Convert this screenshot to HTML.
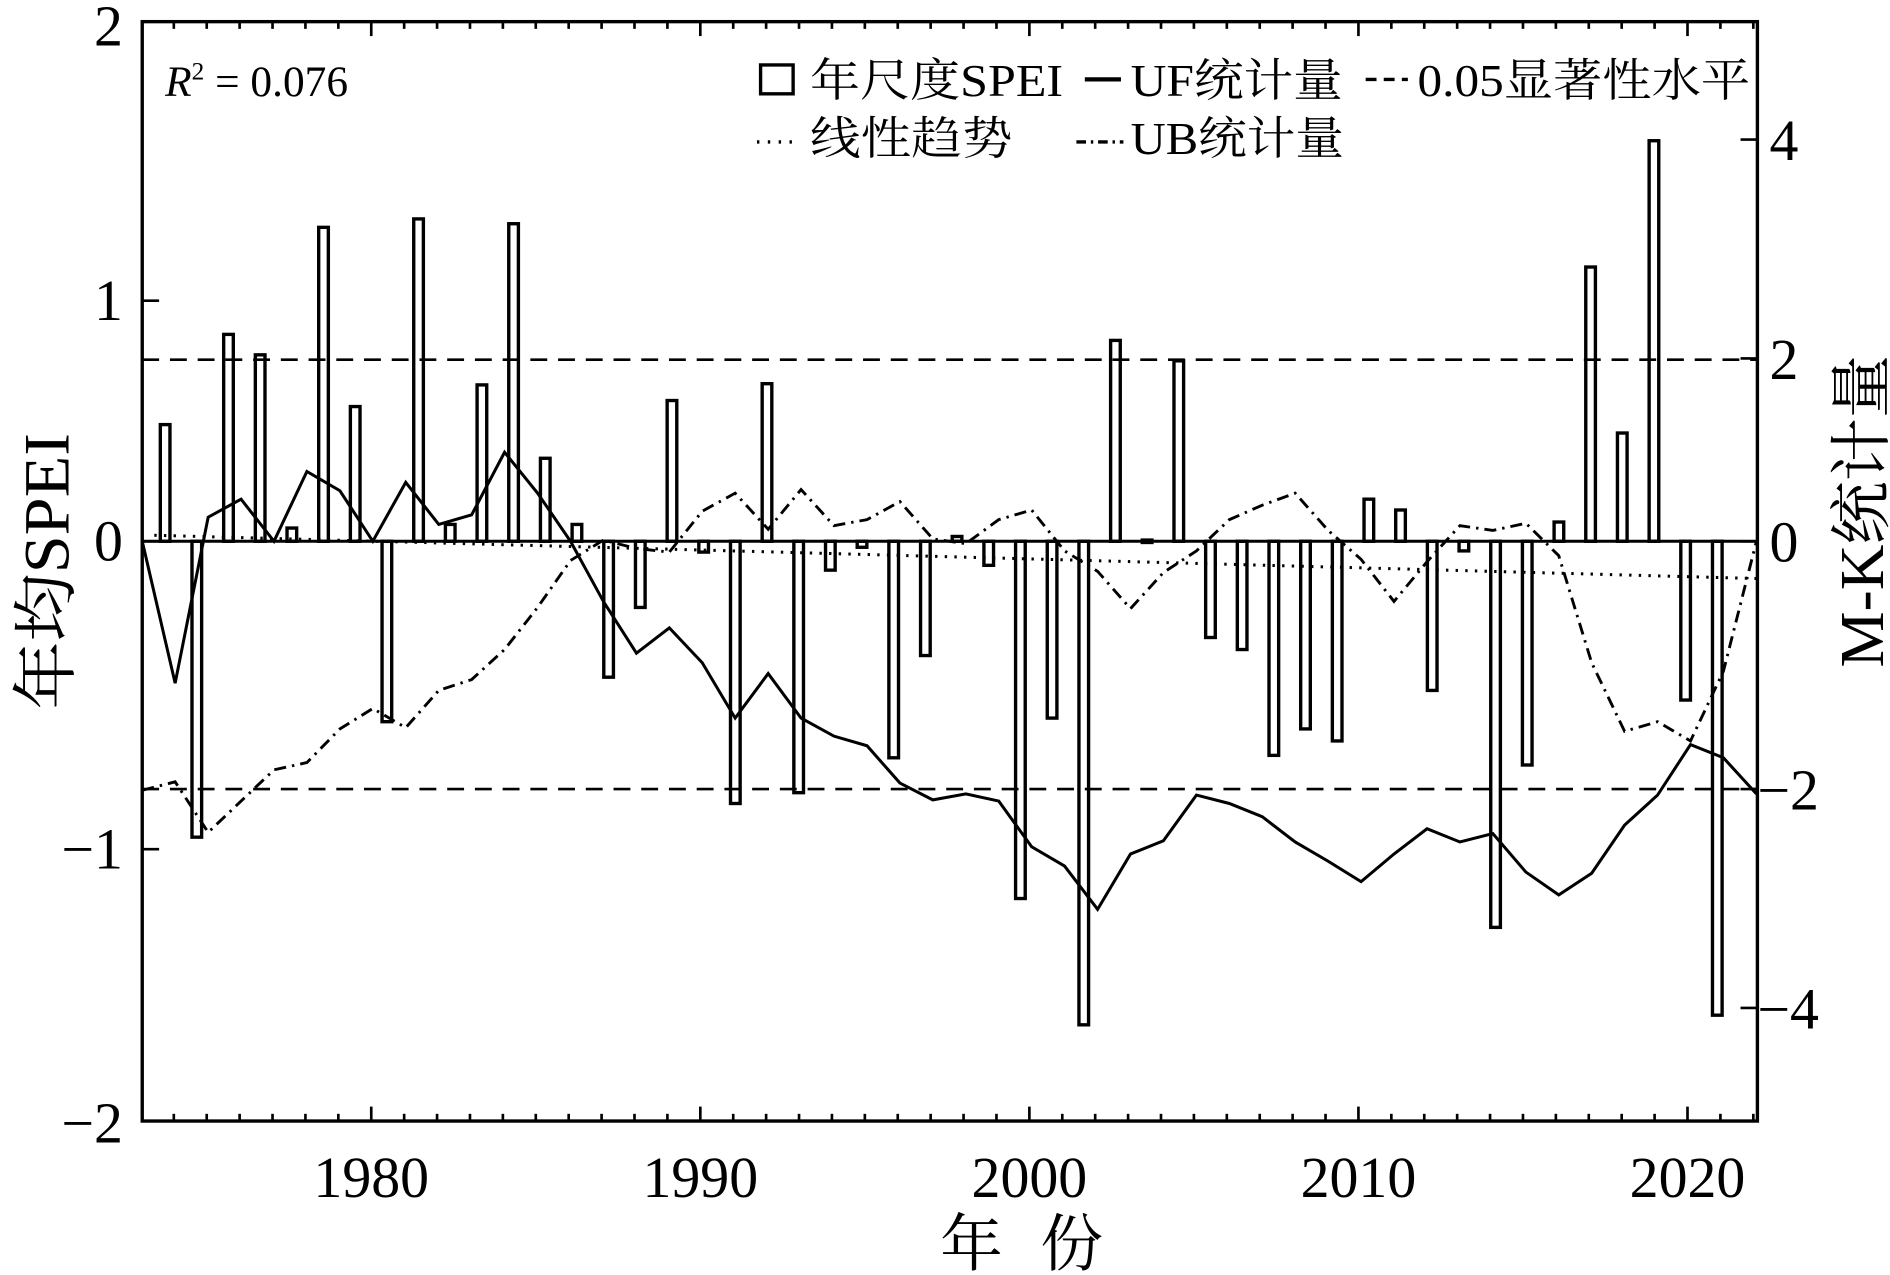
<!DOCTYPE html>
<html><head><meta charset="utf-8"><style>html,body{margin:0;padding:0;background:#fff}svg{display:block}</style></head>
<body>
<svg width="1890" height="1275" viewBox="0 0 1568 1060" preserveAspectRatio="none" xmlns="http://www.w3.org/2000/svg" font-family="'Liberation Serif','Noto Serif CJK SC',serif">
<rect width="1568" height="1060" fill="#fff"/>
<g id="bars" fill="#fff" stroke="#000" stroke-width="2.8"></g>
<line x1="118" y1="450" x2="1458" y2="450" stroke="#000" stroke-width="2.5"/>
<line x1="118" y1="299" x2="1458" y2="299" stroke="#000" stroke-width="2.2" stroke-dasharray="14,9"/>
<line x1="118" y1="656" x2="1458" y2="656" stroke="#000" stroke-width="2.2" stroke-dasharray="14,9"/>
<line x1="128" y1="445" x2="1458" y2="481" stroke="#000" stroke-width="2.5" stroke-dasharray="2,6"/>
<polyline id="uf" fill="none" stroke="#000" stroke-width="2.5"/>
<polyline id="ub" fill="none" stroke="#000" stroke-width="2.4" stroke-dasharray="10,5,2,5"/>
<rect x="118" y="18" width="1340" height="914" fill="none" stroke="#000" stroke-width="2.8"/>
<g id="ticks" stroke="#000" stroke-width="2.2"></g>
<g font-size="48" fill="#000">
<text x="102" y="38" text-anchor="end">2</text>
<text x="102" y="266" text-anchor="end">1</text>
<text x="102" y="466" text-anchor="end">0</text>
<text x="102" y="722" text-anchor="end">−1</text>
<text x="102" y="950" text-anchor="end">−2</text>
<text x="1468" y="133">4</text>
<text x="1468" y="315">2</text>
<text x="1468" y="467">0</text>
<text x="1458" y="673">−2</text>
<text x="1458" y="855">−4</text>
<text x="308" y="995" text-anchor="middle">1980</text>
<text x="581" y="995" text-anchor="middle">1990</text>
<text x="854" y="995" text-anchor="middle">2000</text>
<text x="1127" y="995" text-anchor="middle">2010</text>
<text x="1400" y="995" text-anchor="middle">2020</text>
</g>
<text x="780" y="1052" font-size="52" textLength="135" lengthAdjust="spacing">年 份</text>
<text transform="translate(57,475) rotate(-90)" font-size="54" text-anchor="middle" textLength="230" lengthAdjust="spacingAndGlyphs">年均SPEI</text>
<text transform="translate(1562,425) rotate(-90)" font-size="52" text-anchor="middle" textLength="260" lengthAdjust="spacingAndGlyphs">M-K统计量</text>
<text x="137" y="80" font-size="36"><tspan font-style="italic">R</tspan><tspan font-size="21" dy="-14">2</tspan><tspan dy="14"> = 0.076</tspan></text>
<g font-size="38">
<rect x="631" y="54" width="27" height="24" fill="#fff" stroke="#000" stroke-width="2.8"/>
<text x="672" y="80" textLength="210" lengthAdjust="spacingAndGlyphs">年尺度SPEI</text>
<line x1="900" y1="66" x2="930" y2="66" stroke="#000" stroke-width="3.5"/>
<text x="938" y="80" textLength="176" lengthAdjust="spacingAndGlyphs">UF统计量</text>
<line x1="1133" y1="66" x2="1168" y2="66" stroke="#000" stroke-width="2.8" stroke-dasharray="9,6"/>
<text x="1176" y="80" textLength="276" lengthAdjust="spacingAndGlyphs">0.05显著性水平</text>
<line x1="628" y1="118" x2="660" y2="118" stroke="#000" stroke-width="2.8" stroke-dasharray="2,7"/>
<text x="672" y="128" textLength="168" lengthAdjust="spacingAndGlyphs">线性趋势</text>
<line x1="893" y1="118" x2="932" y2="118" stroke="#000" stroke-width="2.8" stroke-dasharray="8,4,2,4"/>
<text x="938" y="128" textLength="177" lengthAdjust="spacingAndGlyphs">UB统计量</text>
</g>
<script>
var ns="http://www.w3.org/2000/svg";
var bars=[353,-696,278,295,439,189,338,-600,182,436,320,186,381,436,-563,-505,333,-459,-668,319,-659,-474,-455,-630,-545,446,-470,-747,-597,-852,283,0,300,-530,-540,-628,-606,-616,415,424,-574,-458,-771,-636,434,222,360,117,-582,-844];
var g=document.getElementById('bars');
bars.forEach(function(v,i){var x=137+i*26.28;var r=document.createElementNS(ns,'rect');var y0=v>0?v:450,y1=v>0?450:-v;if(v===0){y0=449;y1=451;}
r.setAttribute('x',x-4);r.setAttribute('y',y0);r.setAttribute('width',8);r.setAttribute('height',Math.max(1,y1-y0));g.appendChild(r);});
var uf=[450,568,430,415,450,392,408,450,401,436,428,376,410,450,500,543,522,551,597,560,597,612,620,651,665,660,666,704,720,756,710,699,661,668,679,700,716,733,710,689,700,693,725,744,726,686,661,619,630,660];
var ub=[657,650,692,666,640,634,606,589,605,574,565,540,505,466,449,456,459,425,410,440,407,437,432,417,448,452,432,424,458,475,506,476,458,432,420,410,441,465,500,467,437,441,435,462,551,608,600,616,558,450];
function pts(a){return a.map(function(y,i){return (118+i*27.33).toFixed(1)+','+y}).join(' ');}
document.getElementById('uf').setAttribute('points',pts(uf));
document.getElementById('ub').setAttribute('points',pts(ub));
var t=document.getElementById('ticks');
function L(a,b,c,d){var l=document.createElementNS(ns,'line');l.setAttribute('x1',a);l.setAttribute('y1',b);l.setAttribute('x2',c);l.setAttribute('y2',d);t.appendChild(l);}
for(var y=1973;y<=2022;y++){var x=308+(y-1980)*27.3;if(x<119||x>1457)continue;var len=(y%10==0)?12:6;L(x,932,x,932-len);L(x,18,x,18+len);}
[250,450,706].forEach(function(y){L(118,y,132,y);});
[116,298,450,656,838].forEach(function(y){L(1458,y,1444,y);});
</script>
</svg>
</body></html>
